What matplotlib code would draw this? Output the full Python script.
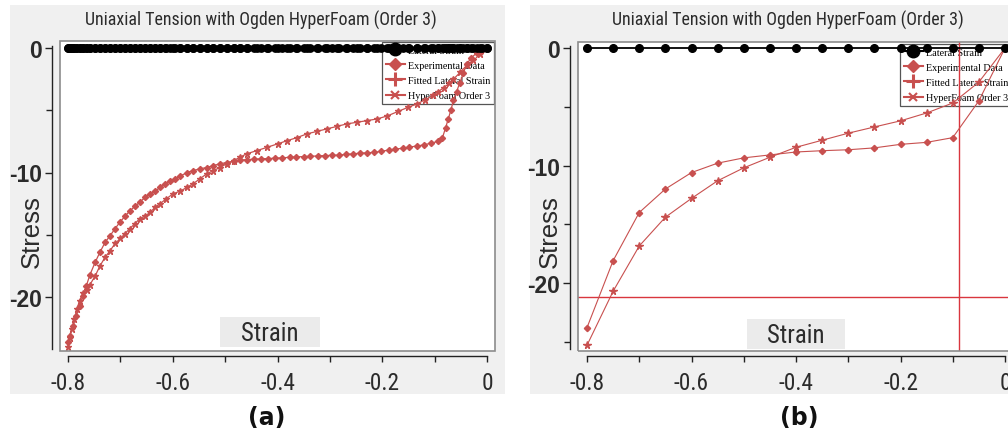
import os
import matplotlib
matplotlib.use('Agg')
import matplotlib.pyplot as plt
from matplotlib.patches import Rectangle
from matplotlib.lines import Line2D
from matplotlib import font_manager as fm

# ---------------- data ----------------
# panel (a) : dense test data
strain_exp_a = [-0.800, -0.797, -0.790, -0.784, -0.778, -0.771, -0.765, -0.758, -0.748, -0.739,
                -0.729, -0.720, -0.710, -0.701, -0.691, -0.682, -0.672, -0.663, -0.653, -0.643,
                -0.634, -0.624, -0.615, -0.605, -0.596, -0.586, -0.573, -0.561, -0.548, -0.535,
                -0.523, -0.510, -0.497, -0.484, -0.472, -0.458, -0.445, -0.431, -0.418, -0.404,
                -0.391, -0.377, -0.364, -0.350, -0.337, -0.323, -0.310, -0.296, -0.283, -0.269,
                -0.256, -0.242, -0.229, -0.215, -0.202, -0.188, -0.175, -0.161, -0.148, -0.134,
                -0.121, -0.107, -0.094, -0.085, -0.079, -0.074, -0.069, -0.064, -0.058, -0.052,
                -0.045, -0.039, -0.030, -0.020, -0.010, 0.000]
stress_exp_a = [-23.6, -23.1, -22.3, -21.5, -20.7, -19.9, -19.1, -18.2, -17.2, -16.4,
                -15.6, -15.1, -14.5, -14.0, -13.5, -13.1, -12.7, -12.4, -12.0, -11.7,
                -11.5, -11.2, -10.9, -10.7, -10.5, -10.3, -10.0, -9.85, -9.7, -9.6,
                -9.45, -9.3, -9.2, -9.1, -9.0, -8.97, -8.93, -8.9, -8.88, -8.85,
                -8.82, -8.78, -8.75, -8.72, -8.7, -8.67, -8.64, -8.62, -8.6, -8.55,
                -8.5, -8.45, -8.42, -8.38, -8.3, -8.2, -8.12, -8.05, -7.95, -7.88,
                -7.78, -7.65, -7.5, -7.2, -6.4, -5.7, -5.0, -4.2, -3.5, -2.8,
                -2.0, -1.3, -0.8, -0.4, -0.15, 0.0]

strain_fit_a = [-0.800, -0.797, -0.793, -0.788, -0.783, -0.778, -0.771, -0.764, -0.758, -0.748,
                -0.739, -0.729, -0.720, -0.710, -0.700, -0.691, -0.682, -0.672, -0.663, -0.653,
                -0.643, -0.634, -0.624, -0.612, -0.599, -0.586, -0.573, -0.561, -0.548, -0.535,
                -0.523, -0.510, -0.497, -0.484, -0.472, -0.459, -0.440, -0.420, -0.400, -0.382,
                -0.363, -0.344, -0.325, -0.306, -0.287, -0.268, -0.249, -0.230, -0.210, -0.190,
                -0.170, -0.150, -0.134, -0.118, -0.103, -0.093, -0.083, -0.073, -0.064, -0.051,
                -0.039, -0.026, -0.013, 0.000]
stress_fit_a = [-24.0, -23.3, -22.6, -21.8, -21.0, -20.3, -19.7, -19.4, -19.0, -18.3,
                -17.5, -16.8, -16.3, -15.7, -15.3, -14.9, -14.5, -14.1, -13.7, -13.5,
                -13.2, -12.8, -12.5, -12.1, -11.7, -11.5, -11.2, -10.9, -10.5, -10.1,
                -9.86, -9.6, -9.3, -9.05, -8.78, -8.5, -8.25, -7.98, -7.7, -7.45,
                -7.2, -6.9, -6.7, -6.5, -6.3, -6.1, -5.97, -5.84, -5.7, -5.45,
                -5.1, -4.75, -4.5, -4.15, -3.8, -3.5, -3.2, -2.85, -2.5, -1.95,
                -1.4, -1.0, -0.5, 0.0]

# panel (b) : coarse data
strain_b = [-0.80, -0.75, -0.70, -0.65, -0.60, -0.55, -0.50, -0.45, -0.40,
            -0.35, -0.30, -0.25, -0.20, -0.15, -0.10, -0.05, 0.00]
stress_exp_b = [-23.8, -18.1, -14.0, -12.0, -10.6, -9.8, -9.35, -9.1, -8.85,
                -8.74, -8.66, -8.5, -8.2, -8.03, -7.63, -4.5, 0.0]
stress_fit_b = [-25.3, -20.7, -16.85, -14.4, -12.8, -11.3, -10.2, -9.3, -8.45,
                -7.85, -7.25, -6.72, -6.2, -5.53, -4.68, -2.9, 0.0]
hline_b = -21.2
vline_b = -0.088

title = "Uniaxial Tension with Ogden HyperFoam (Order 3)"
legend_labels = ["Lateral Strain", "Experimental Data", "Fitted Lateral Strain", "HyperFoam Order 3"]
xticks = [-0.8, -0.6, -0.4, -0.2, 0.0]
xticklabels = ["-0.8", "-0.6", "-0.4", "-0.2", "0"]
xminor = [-0.7, -0.5, -0.3, -0.1]
yticks = [0, -10, -20]
yticklabels = ["0", "-10", "-20"]

# ---------------- fonts ----------------
def find_narrow():
    wanted = ['LiberationSansNarrow-Regular.ttf', 'ArialNarrow.ttf', 'RobotoCondensed-Regular.ttf',
              'NotoSans-Condensed.ttf', 'NotoSans-CondensedRegular.ttf', 'DejaVuSansCondensed.ttf',
              'NotoSans-SemiCondensed.ttf', 'OpenSans-CondensedRegular.ttf']
    files = {os.path.basename(f.fname): f.fname for f in fm.fontManager.ttflist}
    for w in wanted:
        if w in files:
            return fm.FontProperties(fname=files[w])
    return fm.FontProperties(family='Liberation Sans')

NARROW_FP = find_narrow()

def narrow(size):
    fp = NARROW_FP.copy()
    fp.set_size(size)
    return fp

# ---------------- figure ----------------
W, H = 1008, 435
fig = plt.figure(figsize=(W / 100, H / 100), dpi=100)
fig.patch.set_facecolor('white')

def fx(px):
    return px / W

def fy(py):
    return 1 - py / H

RED = '#c8504f'
LINE_RED = '#d9363e'
BG = '#f0f0f0'
TXT = '#2b2b2b'

fit_targets = []   # (text artist, target size px, measure height)


def make_panel(x0, bg_right, box_l, box_r, box_t, box_b, xlim, ylim, ybound, yminor,
               title_x, stress_x, strain_box, label, label_x, legend_xy):
    fig.add_artist(Rectangle((fx(x0), fy(395)), fx(bg_right - x0), fy(6) - fy(395),
                             transform=fig.transFigure, facecolor=BG, edgecolor='none', zorder=-5))
    ax = fig.add_axes([fx(box_l), fy(box_b), fx(box_r - box_l), fy(box_t) - fy(box_b)])
    ax.set_facecolor('white')
    ax.set_xlim(*xlim)
    ax.set_ylim(*ylim)
    for s in ['top', 'right']:
        ax.spines[s].set_visible(False)
    ax.spines['left'].set_position(('outward', 8 * 0.72))
    ax.spines['bottom'].set_position(('outward', 5 * 0.72))
    ax.spines['left'].set_bounds(ybound, 0.15)
    ax.spines['bottom'].set_bounds(-0.8, 0)
    for s in ['left', 'bottom']:
        ax.spines[s].set_color('#222222')
        ax.spines[s].set_linewidth(1.0)
    ax.add_patch(Rectangle((0, 0), 1, 1, transform=ax.transAxes, fill=False,
                           edgecolor='#8c8c8c', lw=1.2, clip_on=False, zorder=2.5))
    ax.set_xticks(xticks)
    ax.set_xticklabels(xticklabels, fontproperties=narrow(16), color=TXT)
    ax.set_xticks(xminor, minor=True)
    ax.set_yticks(yticks)
    ax.set_yticklabels(yticklabels, family='Liberation Sans', fontsize=16.5,
                       fontweight='bold', color=TXT)
    ax.set_yticks(yminor, minor=True)
    ax.tick_params(axis='x', which='both', direction='out', length=4.5, width=1.0,
                   color='#222222', pad=6)
    ax.tick_params(axis='y', which='major', direction='out', length=5, width=1.0,
                   color='#222222', pad=2)
    ax.tick_params(axis='y', which='minor', direction='out', length=4, width=1.0,
                   color='#222222')

    t = fig.text(fx(title_x), fy(20), title, fontproperties=narrow(14), color=TXT,
                 ha='center', va='center')
    fit_targets.append((t, 354, False))
    s = fig.text(fx(stress_x), fy(232), "Stress", family='Liberation Sans', fontsize=17,
                 color=TXT, rotation=90, ha='center', va='center')
    fit_targets.append((s, 73, True))
    sl, sr, st, sb = strain_box
    fig.add_artist(Rectangle((fx(sl), fy(sb)), fx(sr - sl), fy(st) - fy(sb),
                             transform=fig.transFigure, facecolor='#ebebeb',
                             edgecolor='none', zorder=3))
    st_txt = fig.text(fx((sl + sr) / 2), fy((st + sb) / 2 + 1), "Strain",
                      fontproperties=narrow(19), color=TXT, ha='center', va='center', zorder=4)
    fit_targets.append((st_txt, 58, False))
    fig.text(fx(label_x), fy(418), label, family='DejaVu Sans', fontsize=17,
             fontweight='bold', color='#111111', ha='center', va='center')

    handles = [
        Line2D([], [], color='black', lw=1.5, marker='o', markersize=9),
        Line2D([], [], color=RED, lw=1.5, marker='D', markersize=6),
        Line2D([], [], color=RED, lw=1.5, marker='+', markersize=10, mew=2.2),
        Line2D([], [], color=RED, lw=1.5, marker='x', markersize=6, mew=1.5),
    ]
    leg = ax.legend(handles, legend_labels, loc='upper left',
                    bbox_to_anchor=(fx(legend_xy[0]), fy(legend_xy[1])),
                    bbox_transform=fig.transFigure,
                    prop={'family': 'Liberation Serif', 'size': 7.3},
                    frameon=True, fancybox=False, edgecolor='#555555', framealpha=1,
                    borderpad=0.35, labelspacing=0.6, handlelength=1.9,
                    handletextpad=0.35, borderaxespad=0)
    leg.get_frame().set_linewidth(0.9)
    leg.set_zorder(1.5)
    return ax


# panel (a)
ax_a = make_panel(10, 505, 60, 495, 42, 352,
                  (-0.8 - 8 / 523.75, 8 / 523.75), (-(352 - 49) / 12.45, 7 / 12.45),
                  -(350 - 49) / 12.45, [-5, -15],
                  261, 32, (220, 320, 318, 348), "(a)", 267, (382, 43))
ax_a.plot(strain_exp_a, stress_exp_a, color=RED, lw=0.9, marker='D', ms=3.1,
          mec=RED, mfc=RED, zorder=2)
ax_a.plot(strain_fit_a, stress_fit_a, color=RED, lw=0.9, marker='*', ms=5.0,
          mec=RED, mfc=RED, zorder=2)
lat_strain_a = sorted(strain_exp_a + strain_fit_a)
ax_a.plot(lat_strain_a, [0.0] * len(lat_strain_a), color='black', lw=2.4, marker='o',
          ms=5.3, zorder=3)

# panel (b)
ax_b = make_panel(530, 1030, 578, 1013, 43, 352,
                  (-0.8 - 9 / 522.5, 8 / 522.5), (-(352 - 49) / 11.75, 6 / 11.75),
                  -(350 - 49) / 11.75, [-5, -15, -25],
                  788, 550, (747, 845, 320, 350), "(b)", 799, (900, 45))
ax_b.axhline(hline_b, color=LINE_RED, lw=1.0, zorder=2)
ax_b.axvline(vline_b, color=LINE_RED, lw=1.0, zorder=2)
ax_b.plot(strain_b, stress_exp_b, color=RED, lw=0.8, marker='D', ms=3.2,
          mec=RED, mfc=RED, zorder=2.2)
ax_b.plot(strain_b, stress_fit_b, color=RED, lw=0.8, marker='*', ms=5.5,
          mec=RED, mfc=RED, zorder=2.2)
ax_b.plot(strain_b, [0.0] * len(strain_b), color='black', lw=1.3, marker='o',
          ms=5.5, zorder=3)

# ---- fit text sizes to the reference widths ----
fig.canvas.draw()
renderer = fig.canvas.get_renderer()
for t, target, use_h in fit_targets:
    bb = t.get_window_extent(renderer)
    cur = bb.height if use_h else bb.width
    if cur > 0:
        t.set_fontsize(t.get_fontsize() * target / cur)
for ax in (ax_a, ax_b):
    labs = ax.get_xticklabels()
    ref = [l for l in labs if l.get_text() == '-0.8']
    if ref:
        w = ref[0].get_window_extent(renderer).width
        if w > 0:
            k = 35.0 / w
            for l in labs:
                l.set_fontsize(l.get_fontsize() * k)

fig.savefig('out.png', dpi=100)
